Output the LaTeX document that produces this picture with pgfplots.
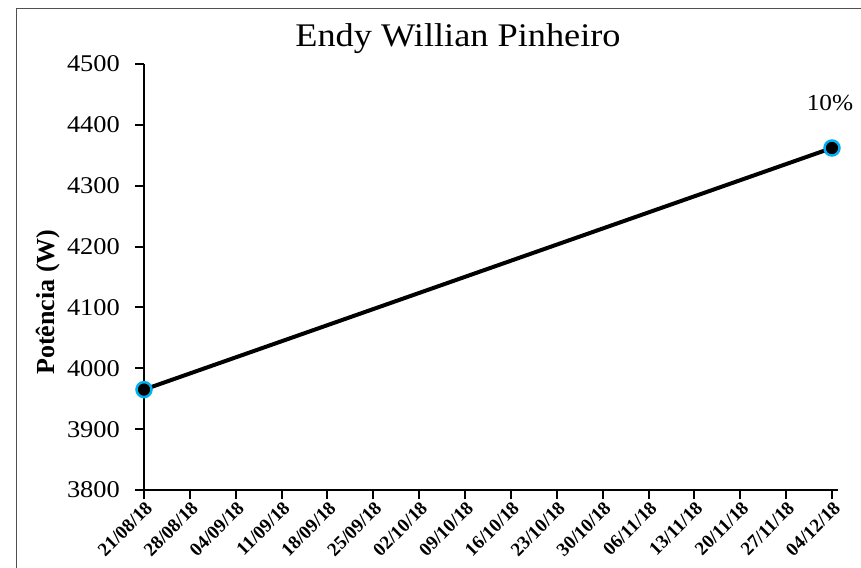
\documentclass[border=0pt]{standalone}
\usepackage{pgfplots}
\pgfplotsset{compat=1.18}
\usepackage{fontspec}
\setmainfont[FakeStretch=1.1]{Liberation Serif}
\newfontfamily\plainserif{Liberation Serif}
\newcommand{\dl}[1]{\textbf{\plainserif #1}}
\definecolor{mk}{RGB}{0,176,240}
\definecolor{frame}{RGB}{80,80,80}
\begin{document}
\begin{tikzpicture}
\useasboundingbox (0,0) rectangle (861bp,568bp);
\draw[frame, line width=1.2bp] (16.5bp,-10bp) -- (16.5bp,559.5bp) -- (900bp,559.5bp);
\begin{axis}[
  at={(144bp,78bp)}, anchor=south west,
  scale only axis, width=694bp, height=426bp,
  xmin=0, xmax=105.92, ymin=3800, ymax=4500,
  axis lines=left,
  axis line style={line width=2bp, -, black},
  xtick={0,7,...,105},
  xticklabels={\dl{21/08/18},\dl{28/08/18},\dl{04/09/18},\dl{11/09/18},\dl{18/09/18},\dl{25/09/18},\dl{02/10/18},\dl{09/10/18},\dl{16/10/18},\dl{23/10/18},\dl{30/10/18},\dl{06/11/18},\dl{13/11/18},\dl{20/11/18},\dl{27/11/18},\dl{04/12/18}},
  ytick={3800,3900,...,4500},
  tick align=outside,
  major tick length=9bp,
  tick style={line width=2bp, black},
  /pgf/number format/assume math mode=true,
  /pgf/number format/1000 sep={},
  yticklabel style={font=\fontsize{24bp}{28bp}\selectfont, inner sep=0pt, xshift=-15bp},
  xticklabel style={font=\fontsize{19bp}{22bp}\selectfont, xshift=5bp, yshift=-6bp, rotate=45, anchor=east, inner sep=0pt},
  clip=false,
  point meta=explicit symbolic,
  nodes near coords={\pgfplotspointmeta},
  nodes near coords style={font=\fontsize{23bp}{27bp}\selectfont, anchor=south, yshift=33bp, xshift=-2bp},
]
\addplot[black, line width=4bp, mark=*, mark size=7.5bp,
  mark options={fill=black, draw=mk, line width=2.5bp}]
  coordinates {(0,3965) [{}] (105,4362) [10\%]};
\end{axis}
\node[anchor=base] at (458bp,521bp) {\fontsize{33bp}{38bp}\selectfont Endy Willian Pinheiro};
\node[rotate=90] at (48bp,266bp) {\plainserif\fontsize{26bp}{30bp}\selectfont\bfseries Potência (W)};
\end{tikzpicture}
\end{document}
